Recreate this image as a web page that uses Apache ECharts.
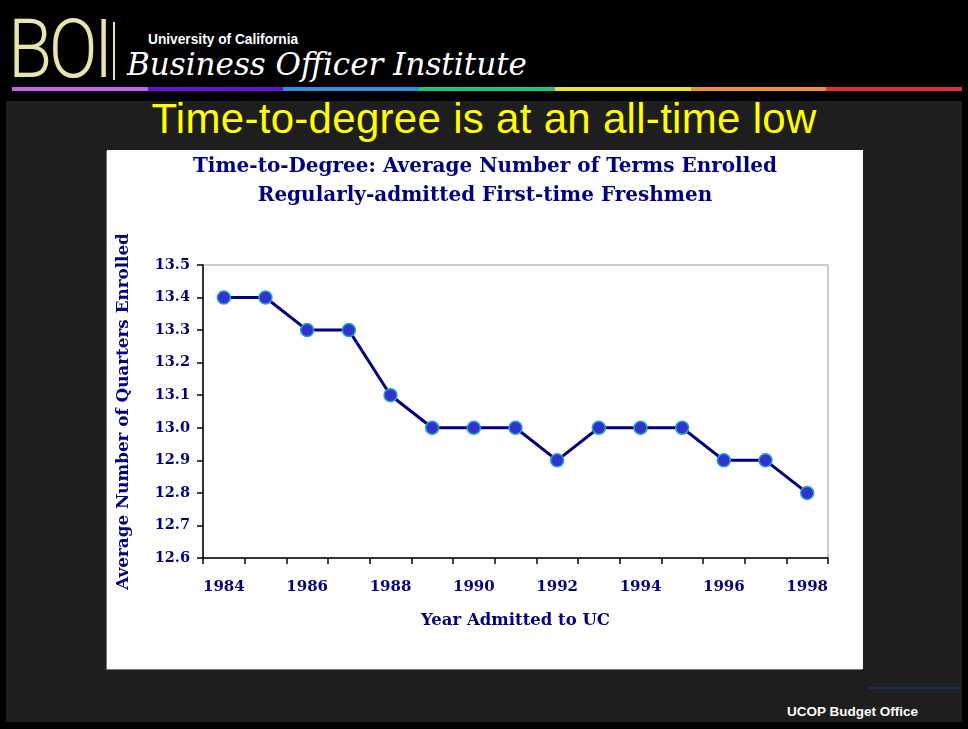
<!DOCTYPE html>
<html>
<head>
<meta charset="utf-8">
<script src="https://cdn.jsdelivr.net/npm/echarts@6/dist/echarts.min.js"></script>
<style>
  html,body{margin:0;padding:0;background:#000;}
  .slide{position:relative;width:968px;height:729px;background:#000;overflow:hidden;}
  .inner{position:absolute;left:6px;top:101px;width:956px;height:621px;background:#1e1e1e;}
  .boi{position:absolute;left:8px;top:4px;font-family:Roboto,"DejaVu Sans",sans-serif;font-weight:300;
    font-size:82px;color:#e9e6ad;letter-spacing:-4px;transform:scaleX(0.88);transform-origin:left top;line-height:90px;}
  .bar{position:absolute;left:113px;top:22px;width:2px;height:58px;background:#e9e6ad;}
  .uc{position:absolute;left:148px;top:31px;font-family:"Liberation Sans",Arial,sans-serif;font-weight:bold;
    font-size:14px;color:#fff;transform:scaleX(0.98);transform-origin:left top;}
  .bi{position:absolute;left:127px;top:46px;font-family:"DejaVu Serif",serif;font-style:italic;
    font-size:31px;color:#fff;}
  .rainbow{position:absolute;left:12px;top:87px;width:950px;height:4px;display:flex;}
  .rainbow div{flex:1;}
  .head{position:absolute;left:0;width:968px;top:95px;text-align:center;font-family:"Liberation Sans",Arial,sans-serif;
    font-size:42px;letter-spacing:0.3px;color:#ffff00;line-height:48px;}
  .box{position:absolute;left:107px;top:150px;width:756px;height:519px;background:#fff;
    box-shadow:-1px 1px 0 #777;}
  #chart{width:756px;height:519px;}
  .fline{position:absolute;left:868px;top:687px;width:92px;height:2px;background:#1b2a6e;}
  .foot{position:absolute;left:787px;top:704px;font-family:"Liberation Sans",Arial,sans-serif;font-weight:bold;
    font-size:13.5px;color:#fff;}
</style>
</head>
<body>
<div class="slide">
  <div class="inner"></div>
  <div class="boi">BOI</div>
  <div class="bar"></div>
  <div class="uc">University of California</div>
  <div class="bi">Business Officer Institute</div>
  <div class="rainbow">
    <div style="background:#c462e6"></div>
    <div style="background:#6310d6"></div>
    <div style="background:#2f8fe3"></div>
    <div style="background:#22c27a"></div>
    <div style="background:#ece42a"></div>
    <div style="background:#ea9235"></div>
    <div style="background:#e2302e"></div>
  </div>
  <div class="head">Time-to-degree is at an all-time low</div>
  <div class="box"><div id="chart"></div></div>
  <div class="fline"></div>
  <div class="foot">UCOP Budget Office</div>
</div>
<script>
  // 数据
  var years = ['1984','1985','1986','1987','1988','1989','1990','1991',
    '1992','1993','1994','1995','1996','1997','1998'];
  var terms = [13.4, 13.4, 13.3, 13.3, 13.1, 13.0, 13.0, 13.0,
    12.9, 13.0, 13.0, 13.0, 12.9, 12.9, 12.8];
  var yMin = 12.6, yMax = 13.5, yStep = 0.1;

  var navy = '#000080';
  var serif = '"DejaVu Serif", serif';

  var myChart = echarts.init(document.getElementById('chart'));
  var option = {
    animation: false,
    backgroundColor: '#fff',
    title: {
      text: 'Time-to-Degree: Average Number of Terms Enrolled\nRegularly-admitted First-time Freshmen',
      left: 'center',
      top: -3,
      textStyle: {color: navy, fontFamily: serif, fontWeight: 'bold', fontSize: 20, lineHeight: 29}
    },
    grid: {
      left: 96, right: 35, top: 115, bottom: 111,
      outerBoundsMode: 'none',
      containLabel: false,
      show: true, borderColor: '#999', borderWidth: 1, backgroundColor: '#fff'
    },
    xAxis: {
      type: 'category',
      data: years,
      name: 'Year Admitted to UC',
      nameLocation: 'middle',
      nameGap: 54,
      nameTextStyle: {color: navy, fontFamily: serif, fontWeight: 'bold', fontSize: 16.5},
      axisLine: {lineStyle: {color: '#000', width: 1.5}},
      axisTick: {show: true, interval: 0, length: 6, lineStyle: {color: '#000', width: 1.5}},
      axisLabel: {interval: 1, color: navy, fontFamily: serif, fontWeight: 'bold', fontSize: 15, margin: 22},
      splitLine: {show: false}
    },
    yAxis: {
      type: 'value',
      min: yMin, max: yMax, interval: yStep,
      name: 'Average Number of Quarters Enrolled',
      nameLocation: 'middle',
      nameGap: 71,
      nameTextStyle: {color: navy, fontFamily: serif, fontWeight: 'bold', fontSize: 16.8},
      axisLine: {show: true, lineStyle: {color: '#000', width: 1.5}},
      axisTick: {show: true, length: 6, lineStyle: {color: '#000', width: 1.5}},
      axisLabel: {color: navy, fontFamily: serif, fontWeight: 'bold', fontSize: 14.5, margin: 13,
        formatter: function (v) { return v.toFixed(1); }},
      splitLine: {show: false}
    },
    series: [{
      type: 'line',
      data: terms,
      symbol: 'circle',
      symbolSize: 13,
      lineStyle: {color: navy, width: 3},
      itemStyle: {color: '#3333cc', borderColor: '#1fa2da', borderWidth: 1.5}
    }]
  };
  myChart.setOption(option);
</script>
</body>
</html>
